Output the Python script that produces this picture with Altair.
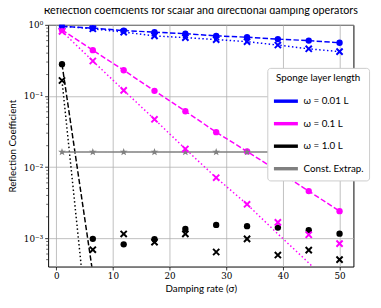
import altair as alt
import pandas as pd

sigma = [1.0, 6.44, 11.89, 17.33, 22.78, 28.22, 33.67, 39.11, 44.56, 50.0]

series_names = ["ω = 0.01 L", "ω = 0.1 L", "ω = 1.0 L", "Const. Extrap."]
series_colors = ["#0000ff", "#ff00ff", "#000000", "#808080"]

# scalar damping (circles, dashed lines)
blue_circle = [0.95, 0.90, 0.83, 0.79, 0.75, 0.70, 0.67, 0.63, 0.60, 0.56]
magenta_circle = [0.85, 0.44, 0.23, 0.118, 0.061, 0.031, 0.0166, 0.0088, 0.0046, 0.0024]
black_circle = [0.28, 0.00098, 0.00082, 0.00097, 0.00135, 0.00154, 0.00148, 0.00141, 0.0013, 0.00116]

# directional damping (crosses, dotted lines)
blue_cross = [0.96, 0.88, 0.79, 0.70, 0.66, 0.62, 0.58, 0.52, 0.46, 0.42]
magenta_cross = [0.81, 0.31, 0.12, 0.047, 0.018, 0.0071, 0.0030, 0.00167, 0.00112, 0.00084]
black_cross = [0.165, 0.00069, 0.00115, 0.00088, 0.00115, 0.00064, 0.00098, 0.00058, 0.00068, 0.0005]

# curves
blue_dashed = blue_circle
magenta_dashed = magenta_circle
black_dashed = [0.28, 3.2e-4, 3.6e-7, 4.0e-10, 4.5e-12, 4.5e-12, 4.5e-12, 4.5e-12, 4.5e-12, 4.5e-12]
blue_dotted = blue_cross
magenta_dotted = [0.81, 0.31, 0.12, 0.047, 0.018, 0.0071, 0.0030, 0.00115, 0.00045, 0.00017]
black_dotted = [0.165, 1.1e-5, 7.4e-10, 4.9e-12, 4.9e-12, 4.9e-12, 4.9e-12, 4.9e-12, 4.9e-12, 4.9e-12]

const_extrap = [0.0163, 0.0163, 0.0163, 0.0163, 0.0163, 0.0163, 0.0163, 0.0163, 0.0163, 0.0163]

major_y = [1, 0.1, 0.01, 0.001]
minor_y = [0.9, 0.8, 0.7, 0.6, 0.5, 0.4, 0.3, 0.2,
           0.09, 0.08, 0.07, 0.06, 0.05, 0.04, 0.03, 0.02,
           0.009, 0.008, 0.007, 0.006, 0.005, 0.004, 0.003, 0.002,
           0.0009, 0.0008, 0.0007, 0.0006, 0.0005]
x_ticks = [0, 10, 20, 30, 40, 50]

STAR = ("M0,-1L0.235,-0.324L0.951,-0.309L0.38,0.124L0.588,0.809L0,0.4"
        "L-0.588,0.809L-0.38,0.124L-0.951,-0.309L-0.235,-0.324Z")
XMARK = "M-1,-1L1,1M-1,1L1,-1"


def frame(values, series):
    return pd.DataFrame({"x": sigma, "y": values, "series": series})


label_expr = ("datum.value == 1 ? '10⁰' : datum.value == 0.1 ? '10⁻¹' : "
              "datum.value == 0.01 ? '10⁻²' : datum.value == 0.001 ? '10⁻³' : ''")

xs = alt.X("x:Q", scale=alt.Scale(domain=[-1.45, 52.45], nice=False, zero=False),
           axis=alt.Axis(values=x_ticks, title="Damping rate (σ)", format="d"))
yscale = alt.Scale(type="log", domain=[0.0004, 1], nice=False)
ys = alt.Y("y:Q", scale=yscale,
           axis=alt.Axis(values=major_y, title="Reflection Coefficient", labelExpr=label_expr))

layers = []
# lines: one layer per curve
for vals, col, dash in [(blue_dashed, series_colors[0], [5.5, 2.4]), (blue_dotted, series_colors[0], [1.5, 2.5]),
                        (magenta_dashed, series_colors[1], [5.5, 2.4]), (magenta_dotted, series_colors[1], [1.5, 2.5]),
                        (black_dashed, series_colors[2], [5.5, 2.4]), (black_dotted, series_colors[2], [1.5, 2.5]),
                        (const_extrap, series_colors[3], [1, 0])]:
    layers.append(alt.Chart(frame(vals, "")).mark_line(clip=True, strokeWidth=1.5, strokeDash=dash, color=col)
                  .encode(x=xs, y=ys))

# circles
for vals, col in [(blue_circle, series_colors[0]), (magenta_circle, series_colors[1]), (black_circle, series_colors[2])]:
    layers.append(alt.Chart(frame(vals, "")).mark_point(shape="circle", filled=True, size=42, opacity=1,
                                                        clip=True, color=col).encode(x=xs, y=ys))

# stars
layers.append(alt.Chart(frame(const_extrap, "")).mark_point(shape=STAR, filled=True, size=70, opacity=1,
                                                            clip=True, color=series_colors[3]).encode(x=xs, y=ys))

# crosses (carry the legend)
crosses = pd.concat([frame(blue_cross, series_names[0]), frame(magenta_cross, series_names[1]),
                     frame(black_cross, series_names[2])])
layers.append(alt.Chart(crosses).mark_point(shape=XMARK, filled=False, size=40,
                                            strokeWidth=2, opacity=1, clip=True).encode(
    x=xs, y=ys,
    color=alt.Color("series:N", scale=alt.Scale(domain=series_names, range=series_colors),
                    legend=alt.Legend(title="Sponge layer length", symbolType="stroke",
                                      symbolStrokeWidth=3.5, symbolSize=600, symbolOpacity=1))))

# minor log ticks
layers.append(alt.Chart(pd.DataFrame({"y": minor_y})).mark_rule(color="black", strokeWidth=0.6).encode(
    y=alt.Y("y:Q", scale=yscale), x=alt.value(-2), x2=alt.value(0)))

chart = alt.layer(*layers).properties(
    width=312, height=247,
    title="Reflection coefficients for scalar and directional damping operators",
    autosize=alt.AutoSizeParams(type="none"),
    padding={"left": 41, "top": 14, "right": 20, "bottom": 32},
).configure_title(fontSize=11, font="Lato", fontWeight="normal", anchor="middle", offset=5, color="black"
).configure_view(stroke="black", strokeWidth=1).configure_axis(
    domain=False, grid=True, gridColor="#b0b0b0", gridWidth=0.8,
    tickColor="black", tickWidth=0.8, tickSize=3.5,
    labelFont="DejaVu Serif", labelFontSize=9, labelColor="black", labelPadding=2,
    titleFont="Lato", titleFontSize=10, titleFontWeight="normal", titleColor="black",
).configure_axisX(titlePadding=3).configure_axisY(titlePadding=6).configure_legend(
    orient="none", legendX=224, legendY=44,
    fillColor="#ffffff", strokeColor="#cccccc", cornerRadius=3, padding=5,
    titleFont="Lato", titleFontSize=10, titleFontWeight="normal", titleAnchor="middle", titleColor="black",
    labelFont="Lato", labelFontSize=10, labelColor="black", rowPadding=2,
)

chart.save("out.html", embed_options={"renderer": "svg", "actions": False})
